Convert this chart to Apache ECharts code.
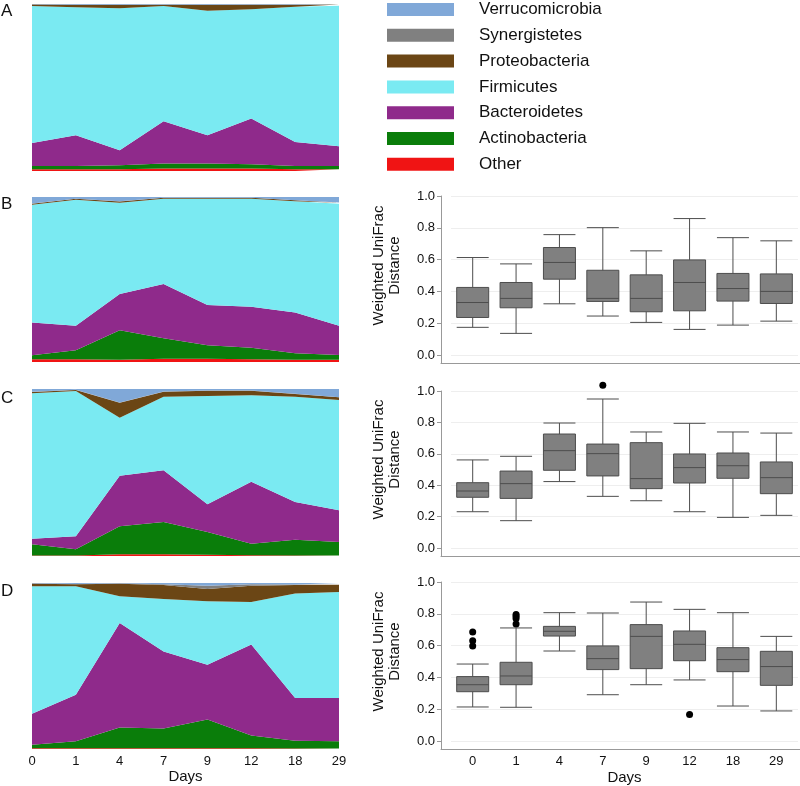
<!DOCTYPE html>
<html>
<head>
<meta charset="utf-8">
<script src="https://cdn.jsdelivr.net/npm/echarts@6/dist/echarts.min.js"></script>
<style>
html, body { margin: 0; padding: 0; background: #fff; }
#chart { width: 800px; height: 786px; }
</style>
</head>
<body>
<div id="chart"></div>
<script>
// days on the x axis
const days = ['0', '1', '4', '7', '9', '12', '18', '29'];

// stack order, bottom to top
const phyla = ['Other', 'Actinobacteria', 'Bacteroidetes', 'Firmicutes', 'Proteobacteria', 'Synergistetes', 'Verrucomicrobia'];
const phylaColors = ['#f01414', '#0a7d0a', '#8f2a8b', '#7aeaf2', '#6b4615', '#808080', '#80a8d8'];
const legendOrder = ['Verrucomicrobia', 'Synergistetes', 'Proteobacteria', 'Firmicutes', 'Bacteroidetes', 'Actinobacteria', 'Other'];

// relative abundance (%), one row per phylum in the order above
const panelA = [
    [1, 1, 1, 1.5, 1.5, 1.5, 1, 1],
    [2, 2, 2.5, 3, 3, 2.5, 2, 2],
    [13.8, 18.4, 8.9, 25.3, 16.9, 27.4, 14.4, 11.8],
    [82, 76.6, 85.1, 69, 74.6, 65.4, 81, 84.2],
    [0.9, 1.5, 2, 0.8, 3.5, 2.8, 1.2, 0.7],
    [0.1, 0.1, 0.1, 0.1, 0.1, 0.1, 0.1, 0.1],
    [0.2, 0.4, 0.4, 0.3, 0.4, 0.3, 0.3, 0.2]
];
const panelB = [
    [1.6, 1.6, 1.4, 2, 2, 1.6, 1.4, 1.4],
    [2.5, 5.5, 17.9, 12.4, 8.1, 7.1, 3.9, 2.9],
    [19.8, 14.8, 21.9, 32.9, 24.4, 24.8, 24.7, 17.6],
    [71.4, 76.5, 55.3, 51.7, 64.5, 65.5, 67.4, 74],
    [0.6, 0.5, 0.8, 0.5, 0.5, 0.5, 0.6, 0.6],
    [0.1, 0.1, 0.1, 0.1, 0.1, 0.1, 0.1, 0.1],
    [4, 1, 2.6, 0.4, 0.4, 0.4, 1.9, 3.4]
];
const panelC = [
    [0.3, 0.3, 1, 1, 0.8, 0.5, 0.3, 0.3],
    [6.7, 3.7, 16.8, 19.4, 13.6, 6.9, 9.5, 8.1],
    [3.4, 7.8, 30.2, 31, 16.6, 37, 22.6, 19],
    [87, 87, 34.8, 44, 64.8, 51.8, 63, 66],
    [0.8, 0.6, 9, 3, 3.2, 2.8, 1.6, 1.6],
    [0.1, 0.1, 0.1, 0.1, 0.1, 0.1, 0.1, 0.1],
    [1.7, 0.5, 8.1, 1.5, 0.9, 0.9, 2.9, 4.9]
];
const panelD = [
    [0.5, 0.5, 0.5, 0.5, 0.5, 0.5, 0.3, 0.3],
    [2.1, 4.1, 12.5, 11.9, 17.2, 7.7, 4.7, 4.3],
    [18.7, 28.1, 62.9, 46.4, 33.1, 54.7, 25.7, 26.1],
    [76.7, 65.3, 16.1, 31.6, 38.2, 25.7, 62.9, 63.9],
    [1.6, 1.2, 7.6, 8.4, 7.4, 9.8, 5.2, 4.4],
    [0.2, 0.2, 0.3, 0.5, 2, 0.8, 0.3, 0.2],
    [0.2, 0.6, 0.1, 0.7, 1.6, 0.8, 0.9, 0.8]
];

// weighted UniFrac boxes: [min, Q1, median, Q3, max]
const boxB = [
    [0.174, 0.236, 0.33, 0.425, 0.613],
    [0.136, 0.297, 0.356, 0.456, 0.573],
    [0.322, 0.477, 0.582, 0.676, 0.757],
    [0.245, 0.337, 0.356, 0.533, 0.801],
    [0.205, 0.272, 0.356, 0.504, 0.655],
    [0.161, 0.278, 0.456, 0.598, 0.858],
    [0.188, 0.339, 0.418, 0.513, 0.738],
    [0.213, 0.324, 0.400, 0.510, 0.718]
];
const boxC = [
    [0.231, 0.323, 0.363, 0.416, 0.561],
    [0.174, 0.316, 0.410, 0.490, 0.584],
    [0.423, 0.495, 0.620, 0.726, 0.796],
    [0.329, 0.459, 0.601, 0.662, 0.949],
    [0.301, 0.378, 0.442, 0.671, 0.739],
    [0.231, 0.414, 0.512, 0.599, 0.794],
    [0.195, 0.444, 0.524, 0.605, 0.739],
    [0.208, 0.346, 0.448, 0.548, 0.732]
];
const boxD = [
    [0.214, 0.310, 0.354, 0.405, 0.484],
    [0.212, 0.354, 0.409, 0.495, 0.711],
    [0.566, 0.660, 0.690, 0.721, 0.807],
    [0.291, 0.449, 0.518, 0.598, 0.805],
    [0.354, 0.455, 0.658, 0.732, 0.874],
    [0.384, 0.505, 0.608, 0.692, 0.828],
    [0.220, 0.436, 0.512, 0.587, 0.807],
    [0.189, 0.350, 0.468, 0.564, 0.658]
];
const outliersB = [];
const outliersC = [['7', 1.036]];
const outliersD = [
    ['0', 0.686], ['0', 0.631], ['0', 0.598],
    ['1', 0.795], ['1', 0.784], ['1', 0.771], ['1', 0.736],
    ['12', 0.166]
];

const areaPanels = [panelA, panelB, panelC, panelD];
const boxPanels = [boxB, boxC, boxD];
const outlierPanels = [outliersB, outliersC, outliersD];

const chart = echarts.init(document.getElementById('chart'));

const font = 'Liberation Sans';
const areaLayout = [
    { top: 4, height: 167 },
    { top: 197, height: 165 },
    { top: 389, height: 167 },
    { top: 583, height: 166 }
];
const boxLayout = [
    { top: 196, frame: 167, box: 159 },
    { top: 391, frame: 165, box: 157 },
    { top: 582, frame: 167, box: 159 }
];

const grid = [];
const xAxis = [];
const yAxis = [];
const series = [];

// stacked area panels
areaLayout.forEach((g, i) => {
    const last = i === areaLayout.length - 1;
    grid.push({ left: 32, width: 307, top: g.top, height: g.height });
    xAxis.push({
        type: 'category', gridIndex: i, data: days, boundaryGap: false,
        axisLine: { show: false }, axisTick: { show: false }, splitLine: { show: false },
        axisLabel: { show: last, fontSize: 13, color: '#111', margin: 6 },
        name: last ? 'Days' : '', nameLocation: 'middle', nameGap: 20,
        nameTextStyle: { fontSize: 15, color: '#111' }
    });
    yAxis.push({ type: 'value', gridIndex: i, min: 0, max: 100, show: false });
    phyla.forEach((name, k) => {
        series.push({
            name: name, type: 'line', xAxisIndex: i, yAxisIndex: i,
            stack: 'panel' + i, data: areaPanels[i][k],
            symbol: 'none', silent: true,
            lineStyle: { width: 0, color: phylaColors[k] },
            itemStyle: { color: phylaColors[k] },
            areaStyle: { color: phylaColors[k], opacity: 1 }
        });
    });
});

// box plot panels: a frame grid for the axis lines, and the box grid inside it
boxLayout.forEach((b, p) => {
    const last = p === boxLayout.length - 1;
    const frame = grid.length;
    grid.push({ left: 441, right: 0, top: b.top, height: b.frame });
    xAxis.push({
        type: 'value', gridIndex: frame, min: 0, max: 1,
        axisLine: { show: true, lineStyle: { color: '#999' } },
        axisTick: { show: false }, axisLabel: { show: false }, splitLine: { show: false }
    });
    yAxis.push({
        type: 'value', gridIndex: frame, min: 0, max: 1,
        axisLine: { show: true, lineStyle: { color: '#999' } },
        axisTick: { show: false }, axisLabel: { show: false }, splitLine: { show: false }
    });

    const box = grid.length;
    grid.push({ left: 451, width: 347, top: b.top, height: b.box });
    xAxis.push({
        type: 'category', gridIndex: box, data: days, boundaryGap: true,
        axisLine: { show: false }, axisTick: { show: false }, splitLine: { show: false },
        axisLabel: { show: last, fontSize: 13, color: '#111', margin: 14 },
        name: last ? 'Days' : '', nameLocation: 'middle', nameGap: 29,
        nameTextStyle: { fontSize: 15, color: '#111' }
    });
    yAxis.push({
        type: 'value', gridIndex: box, min: 0, max: 1, interval: 0.2, offset: 10,
        axisLine: { show: false },
        axisTick: { show: true, length: 4, lineStyle: { color: '#999' } },
        axisLabel: { fontSize: 13, color: '#111', margin: 6, formatter: v => v.toFixed(1) },
        splitLine: { show: true, lineStyle: { color: '#eeeeee' } },
        name: 'Weighted UniFrac\nDistance', nameLocation: 'middle', nameRotate: 90, nameGap: 38,
        nameTextStyle: { fontSize: 15, color: '#111', lineHeight: 16, padding: [0, 0, 0, 20] }
    });

    series.push({
        type: 'boxplot', xAxisIndex: box, yAxisIndex: box,
        data: boxPanels[p], boxWidth: [32, 32], silent: true,
        itemStyle: { color: '#808080', borderColor: '#4d4d4d', borderWidth: 1 }
    });
    series.push({
        type: 'scatter', xAxisIndex: box, yAxisIndex: box, clip: false,
        data: outlierPanels[p], symbol: 'circle', symbolSize: 7, silent: true,
        itemStyle: { color: '#000', opacity: 1 }
    });
});

chart.setOption({
    animation: false,
    backgroundColor: '#fff',
    textStyle: { fontFamily: font },
    title: [
        { text: 'A', left: 1, top: 3 },
        { text: 'B', left: 1, top: 196 },
        { text: 'C', left: 1, top: 390 },
        { text: 'D', left: 1, top: 583 }
    ].map(t => Object.assign(t, {
        padding: 0,
        textStyle: { fontFamily: font, fontSize: 17, fontWeight: 'normal', color: '#111' }
    })),
    legend: {
        data: legendOrder, orient: 'vertical', left: 387, top: 1, padding: 0,
        icon: 'rect', itemWidth: 67, itemHeight: 13, itemGap: 8.8,
        selectedMode: false,
        textStyle: { fontFamily: font, fontSize: 17, color: '#111', lineHeight: 13, padding: [0, 0, 0, 20] }
    },
    grid: grid,
    xAxis: xAxis,
    yAxis: yAxis,
    series: series
});
</script>
</body>
</html>
